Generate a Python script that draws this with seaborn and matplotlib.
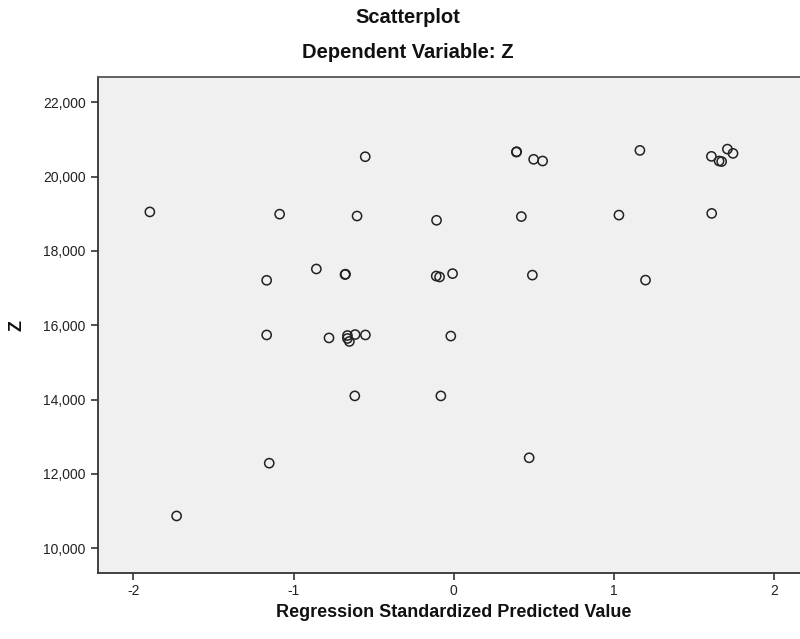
import matplotlib
matplotlib.use("Agg")
import matplotlib.pyplot as plt
import seaborn as sns
import pandas as pd

# Regression standardized predicted value (x) and dependent variable Z (y)
pred_values = [
    -1.897, -1.730, -1.152, -1.168, -1.168, -1.087, -0.858, -0.779, -0.679, -0.676,
    -0.664, -0.664, -0.652, -0.616, -0.618, -0.604, -0.553, -0.552, -0.108, -0.110,
    -0.089, -0.081, -0.019, -0.008, 0.390, 0.392, 0.421, 0.470, 0.490, 0.498,
    0.554, 1.030, 1.161, 1.196, 1.607, 1.609, 1.655, 1.671, 1.707, 1.742,
]
z_values = [
    19050, 10870, 12290, 17210, 15740, 18990, 17515, 15660, 17365, 17375,
    15725, 15645, 15565, 15750, 14100, 18940, 20535, 15740, 18825, 17325,
    17300, 14100, 15710, 17390, 20660, 20670, 18925, 12435, 17350, 20465,
    20420, 18965, 20705, 17215, 20545, 19010, 20420, 20405, 20740, 20625,
]
x_ticks = [-2, -1, 0, 1, 2]
y_ticks = [10000, 12000, 14000, 16000, 18000, 20000, 22000]
y_tick_labels = ["10,000", "12,000", "14,000", "16,000", "18,000", "20,000", "22,000"]

df = pd.DataFrame({"pred": pred_values, "z": z_values})

sns.set_style("ticks")
plt.rcParams["font.family"] = ["Liberation Sans", "DejaVu Sans"]

fig = plt.figure(figsize=(8.0, 6.39), dpi=100)
ax = fig.add_axes([0.122, 0.1038, 0.878, 0.7757])
ax.set_facecolor("#f0f0f0")

sns.scatterplot(data=df, x="pred", y="z", ax=ax, marker="o", s=44,
                facecolors="none", edgecolor="#222222", linewidth=1.1)

ax.set_xlim(-2.223, 2.16)
ax.set_ylim(9344, 22680)
ax.set_xticks(x_ticks)
ax.set_xticklabels([str(t) for t in x_ticks])
ax.set_yticks(y_ticks)
ax.set_yticklabels(y_tick_labels)
ax.tick_params(axis="both", direction="out", length=5, width=1.2,
               colors="#333333", labelsize=10, labelcolor="#222222")

for side in ["left", "bottom"]:
    ax.spines[side].set_color("#333333")
    ax.spines[side].set_linewidth(1.3)
ax.spines["top"].set_visible(True)
ax.spines["top"].set_color("#555555")
ax.spines["top"].set_linewidth(1.3)
ax.spines["right"].set_visible(False)

ax.set_xlabel("")
ax.set_ylabel("")

fig.text(0.51, 0.972, "Scatterplot", ha="center", va="center",
         fontsize=14.5, fontweight="bold", color="#111111")
fig.text(0.51, 0.918, "Dependent Variable: Z", ha="center", va="center",
         fontsize=14.5, fontweight="bold", color="#111111")
fig.text(0.567, 0.042, "Regression Standardized Predicted Value", ha="center",
         va="center", fontsize=13, fontweight="bold", color="#111111")
fig.text(0.021, 0.491, "Z", ha="center", va="center", rotation=90,
         fontsize=13, fontweight="bold", color="#111111")

fig.savefig("out.png", dpi=100, facecolor="white")
